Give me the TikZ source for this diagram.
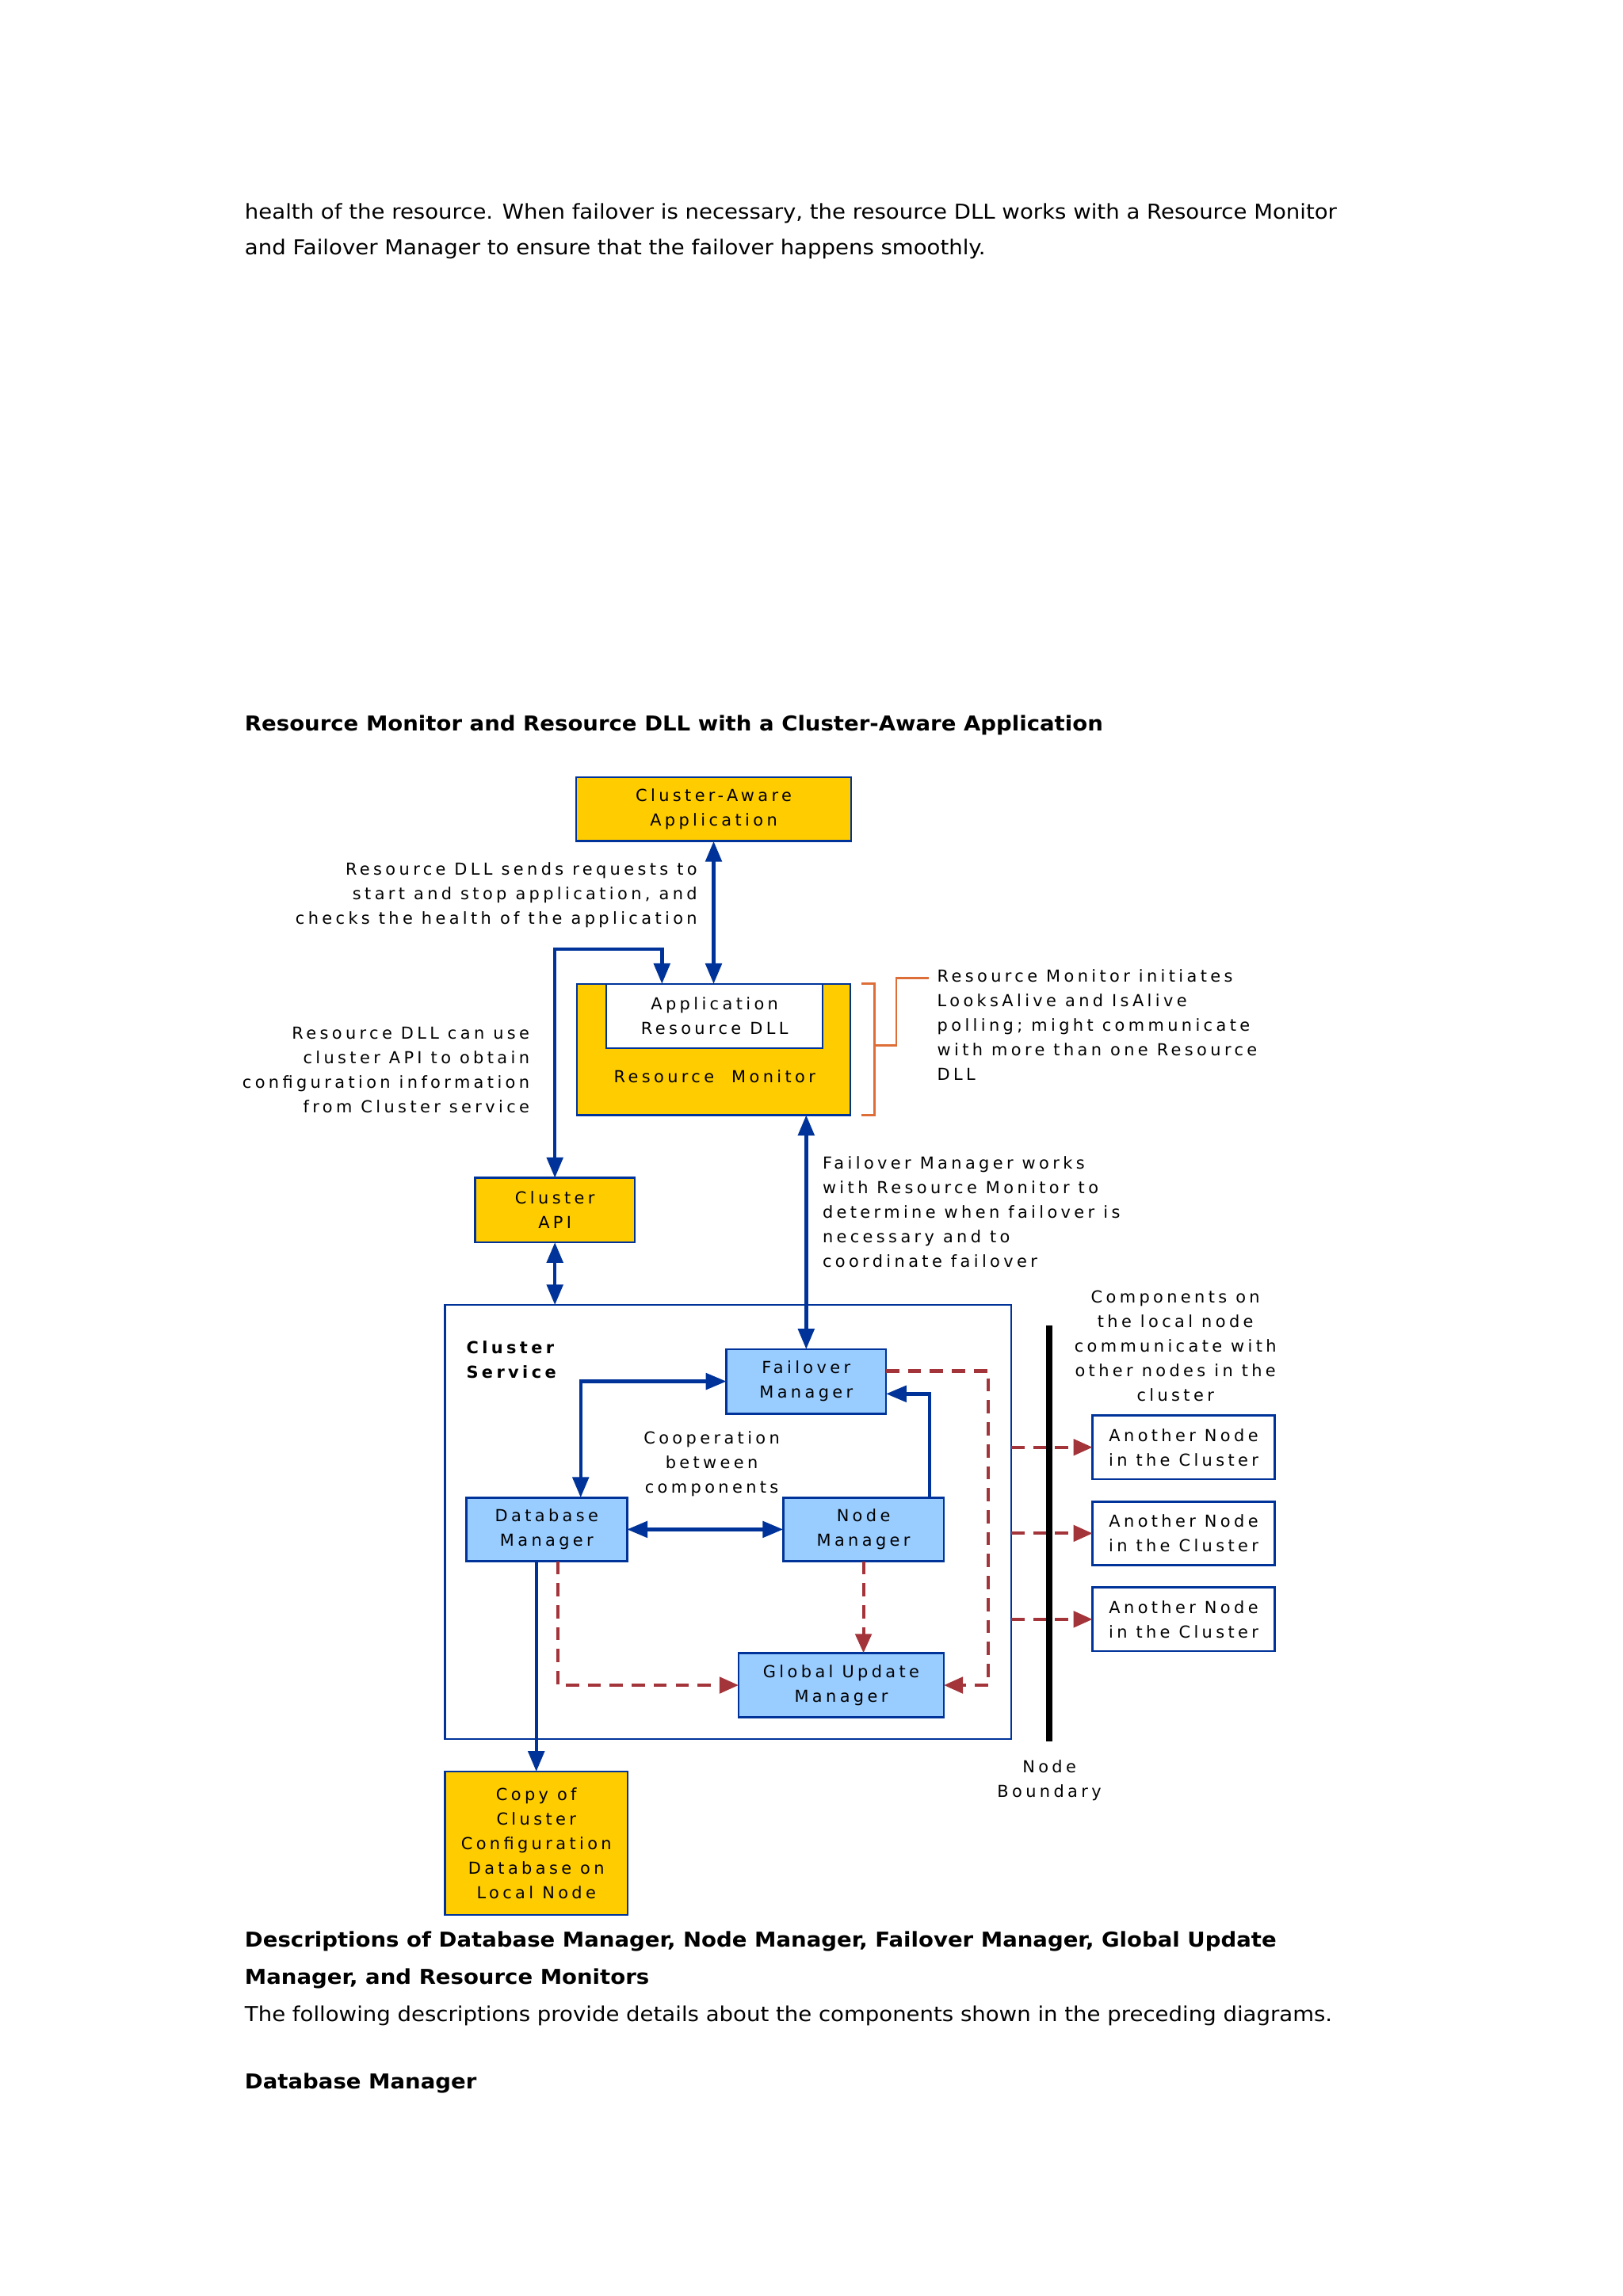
\documentclass[tikz,border=0pt]{standalone}
\usepackage{fontspec}
\setmainfont{DejaVu Sans}[FakeStretch=1.065]
\newfontfamily\dfont{DejaVu Sans}[LetterSpace=21]
\usetikzlibrary{arrows.meta}
\definecolor{cyel}{RGB}{255,204,0}
\definecolor{cblue}{RGB}{0,51,153}
\definecolor{clblue}{RGB}{153,204,255}
\definecolor{cred}{RGB}{163,52,58}
\definecolor{corange}{RGB}{222,110,55}
\begin{document}
\begin{tikzpicture}[x=1pt,y=-1pt,
  dtxt/.style={inner sep=0pt, outer sep=0pt, font=\fontsize{11.3}{16.8}\dfont},
  box/.style={dtxt, draw=cblue, line width=1.4pt, align=center},
  ybox/.style={box, fill=cyel},
  bbox/.style={box, fill=clblue},
  wbox/.style={box, fill=white},
  lbl/.style={dtxt},
  body/.style={inner sep=0pt, outer sep=0pt, font=\fontsize{14}{20}\selectfont, anchor=base west},
  bodyb/.style={body, font=\fontsize{14}{20}\selectfont\bfseries},
  barrow/.style={draw=cblue, line width=2.4pt, arrows={Triangle[width=11pt,length=14pt]-Triangle[width=11pt,length=14pt]}},
  sarrow/.style={draw=cblue, line width=2.4pt, arrows={-Triangle[width=11pt,length=14pt]}},
  rarrow/.style={draw=cred, line width=2.2pt, dash pattern=on 9pt off 6pt, arrows={-Triangle[width=11pt,length=13pt]}},
  obr/.style={draw=corange, line width=1.5pt},
]
\useasboundingbox[fill=white] (0,0) rectangle (1108.2,1568.2);

% body text
\node[body] (p1) at (167.2,149.4) {health of the resource. When failover is necessary, the resource DLL works with a Resource Monitor};
\node[body] (p2) at (167.2,174) {and Failover Manager to ensure that the failover happens smoothly.};
\node[bodyb] (title) at (167.2,499) {Resource Monitor and Resource DLL with a Cluster-Aware Application};
\node[bodyb] (h1) at (167.2,1330) {Descriptions of Database Manager, Node Manager, Failover Manager, Global Update};
\node[bodyb] (h2) at (167.2,1355.5) {Manager, and Resource Monitors};
\node[body] (p3) at (167.2,1380.8) {The following descriptions provide details about the components shown in the preceding diagrams.};
\node[bodyb] (h3) at (167.2,1426.8) {Database Manager};

% boxes
\node[ybox, minimum width=187.8pt, minimum height=43.7pt] (caa) at (487.3,552.7) {Cluster-Aware\\Application};
\node[ybox, minimum width=186.7pt, minimum height=89.6pt] (rm) at (487.2,716.8) {};
\node[wbox, minimum width=147.7pt, minimum height=43.8pt] (ard) at (487.9,693.9) {Application\\Resource DLL};
\node[lbl, anchor=base] (rmlbl) at (488,739.5) {Resource~~Monitor};
\node[ybox, minimum width=109pt, minimum height=44pt] (capi) at (378.9,826.5) {Cluster\\API};
\node[draw=cblue, line width=1.4pt, fill=white, inner sep=0pt, outer sep=0pt, minimum width=386.7pt, minimum height=296.4pt] (cs) at (497.15,1039.5) {};
\node[lbl, align=left, anchor=north west, font=\fontsize{11.3}{16.8}\dfont\bfseries] (cslbl) at (318.5,916) {Cluster\\Service};
\node[bbox, minimum width=109pt, minimum height=44pt] (fm) at (550.5,943.5) {Failover\\Manager};
\node[bbox, minimum width=109.7pt, minimum height=43.5pt] (dm) at (373.3,1044.6) {Database\\Manager};
\node[bbox, minimum width=109.7pt, minimum height=43.5pt] (nm) at (589.6,1044.6) {Node\\Manager};
\node[bbox, minimum width=140.2pt, minimum height=44pt] (gum) at (574.4,1151) {Global Update\\Manager};
\node[wbox, minimum width=124.4pt, minimum height=43.5pt] (an1) at (808.2,988.5) {Another Node\\in the Cluster};
\node[wbox, minimum width=124.4pt, minimum height=43.5pt] (an2) at (808.2,1047.3) {Another Node\\in the Cluster};
\node[wbox, minimum width=124.4pt, minimum height=43.5pt] (an3) at (808.2,1106) {Another Node\\in the Cluster};
\node[ybox, minimum width=124.9pt, minimum height=98pt] (copy) at (366.2,1259) {Copy of\\Cluster\\Configuration\\Database on\\Local Node};

% labels
\node[lbl, align=right, anchor=north east] (t1) at (476,589) {Resource DLL sends requests to\\start and stop application, and\\checks the health of the application};
\node[lbl, align=left, anchor=north west] (t2) at (640,662) {Resource Monitor initiates\\LooksAlive and IsAlive\\polling; might communicate\\with more than one Resource\\DLL};
\node[lbl, align=right, anchor=north east] (t3) at (361.5,701.3) {Resource DLL can use\\cluster API to obtain\\configuration information\\from Cluster service};
\node[lbl, align=left, anchor=north west] (t4) at (561.7,790) {Failover Manager works\\with Resource Monitor to\\determine when failover is\\necessary and to\\coordinate failover};
\node[lbl, align=center, anchor=north] (t5) at (802.6,881.5) {Components on\\the local node\\communicate with\\other nodes in the\\cluster};
\node[lbl, align=center, anchor=north] (t6) at (486,977.5) {Cooperation\\between\\components};
\node[lbl, align=center, anchor=north] (t7) at (716.5,1202) {Node\\Boundary};

% orange bracket
\draw[obr] ([xshift=7.5pt]rm.north east) -- ([xshift=16.5pt]rm.north east) -- ([xshift=16.5pt]rm.south east) -- ([xshift=7.5pt]rm.south east);
\coordinate (ob1) at (597,714);
\coordinate (ob2) at (612,668);
\coordinate (ob3) at (634,668);
\draw[obr] (ob1) -| (ob2) -- (ob3);

% blue connectors
\draw[barrow] (caa.south) -- (caa.south |- ard.north);
\coordinate (j1) at (378.9,648.2);
\draw[barrow] (capi.north) -- (j1) -| ([xshift=-35.9pt]ard.north);
\draw[barrow] (capi.south) -- (capi.south |- cs.north);
\draw[barrow] (fm.north |- rm.south) -- (fm.north);
\draw[barrow] ([xshift=23.2pt]dm.north) |- (fm.west);
\draw[sarrow] ([xshift=45.2pt]nm.north) |- ([yshift=-8.5pt]fm.east);
\draw[barrow] (dm.east) -- (nm.west);
\draw[sarrow] (copy.north |- dm.south) -- (copy.north);

% red dashed connectors
\coordinate (rbus) at (675,1000);
\draw[rarrow] ([xshift=7.7pt]dm.south) |- (gum.west);
\draw[rarrow] (nm.south) -- (nm.south |- gum.north);
\draw[rarrow] ([yshift=7.1pt]fm.east) -- ([yshift=7.1pt]fm.east -| rbus) -- (rbus |- gum.east) -- (gum.east);
\draw[rarrow] (an1.west -| cs.east) -- (an1.west);
\draw[rarrow] (an2.west -| cs.east) -- (an2.west);
\draw[rarrow] (an3.west -| cs.east) -- (an3.west);

% node boundary
\coordinate (nb1) at (716.5,905.5);
\coordinate (nb2) at (716.5,1189.5);
\draw[line width=4.5pt, black] (nb1) -- (nb2);
\end{tikzpicture}
\end{document}
